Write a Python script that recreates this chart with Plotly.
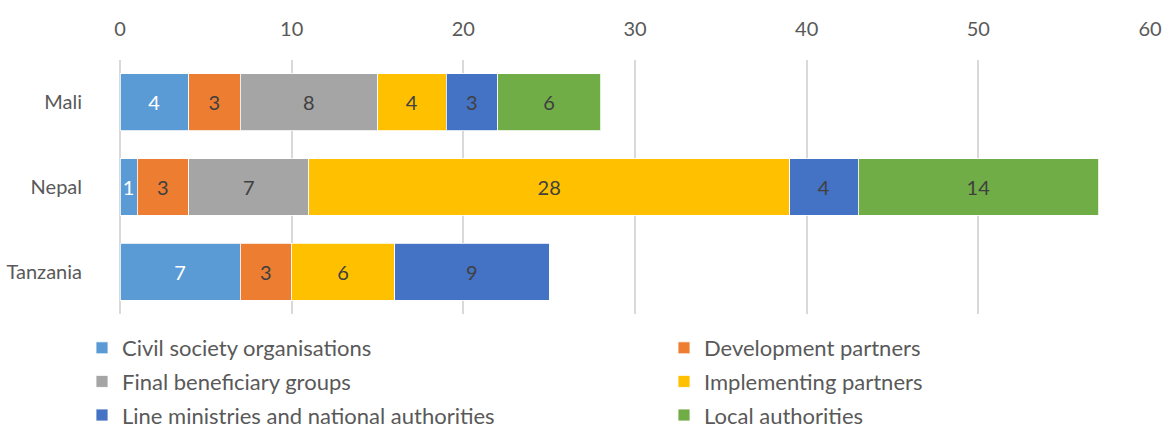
import plotly.graph_objects as go

# Number of stakeholders consulted, by country and stakeholder group
countries = ["Mali", "Nepal", "Tanzania"]
groups = [
    "Civil society organisations",
    "Development partners",
    "Final beneficiary groups",
    "Implementing partners",
    "Line ministries and national authorities",
    "Local authorities",
]
civil_society = [4, 1, 7]
development_partners = [3, 3, 3]
final_beneficiaries = [8, 7, None]
implementing_partners = [4, 28, 6]
line_ministries = [3, 4, 9]
local_authorities = [6, 14, None]

series = [
    civil_society,
    development_partners,
    final_beneficiaries,
    implementing_partners,
    line_ministries,
    local_authorities,
]
colors = ["#5B9BD5", "#ED7D31", "#A5A5A5", "#FFC000", "#4472C4", "#70AD47"]
label_colors = ["#FFFFFF", "#404040", "#404040", "#404040", "#404040", "#404040"]
# legend column for each group (two columns, filled row by row)
legend_ids = ["legend", "legend2", "legend", "legend2", "legend", "legend2"]

FONT = "Lato"
TEXT_GREY = "#595959"

fig = go.Figure()
for name, vals, col, lcol, lid in zip(groups, series, colors, label_colors, legend_ids):
    fig.add_trace(
        go.Bar(
            name=name,
            y=countries,
            x=vals,
            orientation="h",
            legend=lid,
            legendgroup=name,
            marker=dict(color=col, line=dict(color="rgba(255,255,255,0.8)", width=1)),
            texttemplate="%{x}",
            textposition="inside",
            insidetextanchor="middle",
            constraintext="none",
            textfont=dict(family=FONT, size=20, color=lcol),
        )
    )

legend_style = dict(
    orientation="v",
    yref="container",
    y=1 - 327 / 431,
    yanchor="top",
    xanchor="left",
    tracegroupgap=2,
    font=dict(family=FONT, size=22, color=TEXT_GREY),
    bgcolor="rgba(0,0,0,0)",
)

fig.update_layout(
    barmode="stack",
    bargap=0.33,
    width=1166,
    height=431,
    margin=dict(l=120, r=16, t=60, b=117, autoexpand=False),
    paper_bgcolor="white",
    plot_bgcolor="white",
    font=dict(family=FONT, color=TEXT_GREY),
    showlegend=True,
    legend=dict(legend_style, x=(82 - 120) / 1030),
    legend2=dict(legend_style, x=(664 - 120) / 1030),
    xaxis=dict(
        side="top",
        range=[0, 60],
        dtick=10,
        showgrid=True,
        gridcolor="#D9D9D9",
        gridwidth=1.5,
        zeroline=True,
        zerolinecolor="#D9D9D9",
        zerolinewidth=1.5,
        showline=False,
        ticks="",
        ticklabelstandoff=19,
        tickfont=dict(family=FONT, size=20, color=TEXT_GREY),
    ),
    yaxis=dict(
        categoryorder="array",
        categoryarray=countries,
        autorange="reversed",
        showgrid=False,
        showline=False,
        ticks="",
        ticklabelstandoff=37,
        tickfont=dict(family=FONT, size=20, color=TEXT_GREY),
    ),
)

fig.write_html("out.html")
